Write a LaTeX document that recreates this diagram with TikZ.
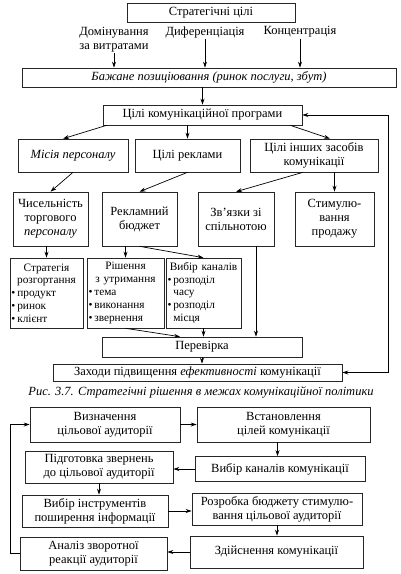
\documentclass[tikz,border=0pt]{standalone}
\usepackage{fontspec}
\setmainfont{Liberation Serif}
\usetikzlibrary{arrows.meta, positioning}

\begin{document}
\begin{tikzpicture}[
  x=1pt, y=-1pt,
  box/.style={rectangle, draw=black!85, line width=0.6pt, inner sep=1.5pt,
              align=center, font=\fontsize{12.5}{14}\selectfont},
  listbox/.style={rectangle, draw=black!85, line width=0.6pt, inner sep=1.5pt,
              font=\fontsize{11.3}{12.8}\selectfont, minimum height=70pt},
  lbl/.style={align=center, inner sep=1pt, font=\fontsize{12.5}{14}\selectfont},
  arrow/.style={-{Stealth[length=6pt, width=4pt]}, line width=0.7pt}
]
\useasboundingbox (0,0) rectangle (401,574);

% upper scheme
\node[box, minimum width=168pt, minimum height=19pt] (strat) at (211,12.5) {Стратегічні цілі};
\node[lbl] (dom) at (114,39.5) {Домінування\\за витратами};
\node[lbl] (dif) at (205,32) {Диференціація};
\node[lbl] (kon) at (300,32) {Концентрація};
\node[box, minimum width=374pt, minimum height=19pt] (pos) at (209,77.5) {\itshape Бажане позиціювання (ринок послуги, збут)};
\node[box, minimum width=199pt, minimum height=20pt] (prog) at (202.5,115) {Цілі комунікаційної програми};

\node[box, minimum width=110pt, minimum height=33pt] (mis) at (73,155.5) {\itshape Місія персоналу};
\node[box, minimum width=105pt, minimum height=33pt] (rek) at (187.5,155.5) {Цілі реклами};
\node[box, minimum width=128pt, minimum height=33pt] (inshi) at (314,155.5) {Цілі інших засобів\\комунікації};

\node[box, minimum width=75pt, minimum height=54pt] (chys) at (50.5,219) {Чисельність\\торгового\\\textit{персоналу}};
\node[box, minimum width=75pt, minimum height=54pt] (bud) at (139.5,219) {Рекламний\\бюджет};
\node[box, minimum width=76pt, minimum height=54pt] (zv) at (236,219) {Зв'язки зі\\спільнотою};
\node[box, minimum width=79pt, minimum height=54pt] (stym) at (334.5,219) {Стимулю-\\вання\\продажу};

\node[listbox, text width=70pt] (str) at (46.5,293) {\centering Стратегія\\розгортання\par\raggedright
  •\,продукт\\•\,ринок\\•\,клієнт};
\node[listbox, text width=74pt] (rish) at (125.5,293) {\centering Рішення\\з утримання\par\raggedright
  •\,тема\\•\,виконання\\•\,звернення};
\node[listbox, text width=72pt] (vyb) at (203.5,293) {\centering Вибір каналів\par\raggedright
  •\,розподіл\\\hphantom{•\,}часу\\•\,розподіл\\\hphantom{•\,}місця};

\node[box, minimum width=200pt, minimum height=20pt] (perev) at (202,347) {Перевірка};
\node[box, minimum width=289pt, minimum height=17pt] (zah) at (197.5,372.5) {Заходи підвищення \textit{ефективності} комунікації};
\node[lbl, font=\itshape\fontsize{12.5}{14}\selectfont] (capt) at (201,392) {Рис. 3.7. Стратегічні рішення в межах комунікаційної політики};

\coordinate (fbR) at (388,372.5);

\draw[arrow] (dom.south) -- (dom.south |- pos.north);
\draw[arrow] (dif.south) -- (dif.south |- pos.north);
\draw[arrow] (kon.south) -- (kon.south |- pos.north);
\draw[arrow] (prog.north |- pos.south) -- (prog.north);
\draw[arrow] ([xshift=4pt]prog.south west) -- ([xshift=-10pt]mis.north);
\draw[arrow] (rek.north |- prog.south) -- (rek.north);
\draw[arrow] ([xshift=-12pt]prog.south east) -- ([xshift=16pt]inshi.north);
\draw[arrow] (mis.south) -- (chys.north);
\draw[arrow] (rek.south) -- (bud.north);
\draw[arrow] ([xshift=-11pt]inshi.south) -- (zv.north);
\draw[arrow] (stym.north |- inshi.south) -- (stym.north);
\draw[arrow] (str.north |- chys.south) -- (str.north);
\draw[arrow] (rish.north |- bud.south) -- (rish.north);
\draw[arrow] (bud.south) -- (vyb.north);
\draw[arrow] ([xshift=20pt]zv.south) -- ([xshift=20pt]zv.south |- perev.north);
\draw[arrow] (rish.south) -- ([xshift=-22pt]perev.north);
\draw[arrow] (vyb.south) -- (vyb.south |- perev.north);
\draw[arrow] (perev.south) -- (perev.south |- zah.north);
\draw[arrow] (fbR) -- (zah.east);
\draw[arrow] (fbR) |- (prog.east);

% lower scheme
\node[box, minimum width=150pt, minimum height=35pt] (viz) at (105,424.5) {Визначення\\цільової аудиторії};
\node[box, minimum width=173pt, minimum height=35pt] (vst) at (283.5,424.5) {Встановлення\\цілей комунікації};
\node[box, minimum width=170pt, minimum height=25pt] (kan) at (280,469) {Вибір каналів комунікації};
\node[box, minimum width=148pt, minimum height=32pt] (pid) at (99,467) {Підготовка звернень\\до цільової аудиторії};
\node[box, minimum width=146pt, minimum height=32pt] (instr) at (95,511) {Вибір інструментів\\поширення інформації};
\node[box, minimum width=170pt, minimum height=32pt] (rozr) at (277,509) {Розробка бюджету стимулю-\\вання цільової аудиторії};
\node[box, minimum width=173pt, minimum height=32pt] (zd) at (276.5,552) {Здійснення комунікації};
\node[box, minimum width=147pt, minimum height=33pt] (an) at (93.5,553.5) {Аналіз зворотної\\реакції аудиторії};

\coordinate (fbL) at (10,553.5);

\draw[arrow] (viz.east) -- (viz.east -| vst.west);
\draw[arrow] ([xshift=-6pt]vst.south) -- ([xshift=-6pt]vst.south |- kan.north);
\draw[arrow] (kan.west) -- (kan.west -| pid.east);
\draw[arrow] (pid.south) -- (pid.south |- instr.north);
\draw[arrow] (instr.east) -- (instr.east -| rozr.west);
\draw[arrow] (rozr.south) -- (rozr.south |- zd.north);
\draw[arrow] (zd.west) -- (zd.west -| an.east);
\draw[line width=0.7pt] (an.west) -- (fbL);
\draw[arrow] (fbL) |- (viz.west);

\end{tikzpicture}
\end{document}
